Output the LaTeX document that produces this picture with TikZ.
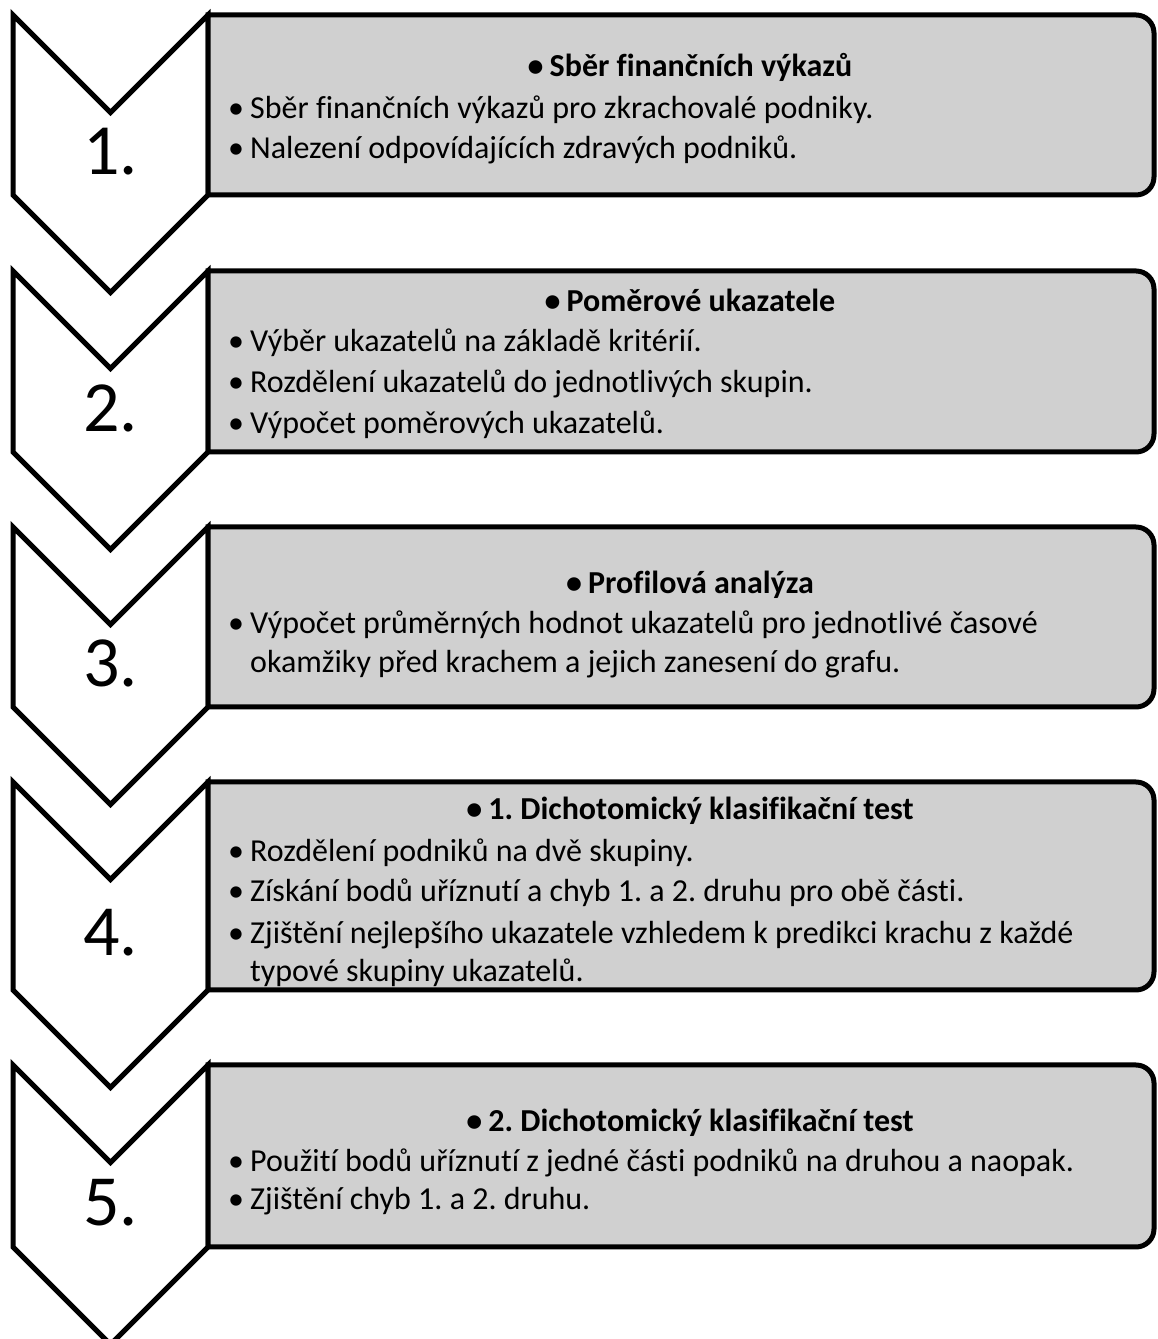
\documentclass[tikz,border=0pt]{standalone}
\usepackage{fontspec}
\setmainfont{Carlito}[Ligatures={TeX,NoCommon}]
\frenchspacing
\definecolor{boxgray}{RGB}{208,208,208}
\tikzset{
  chev/.style={draw=black, line width=5pt, fill=white, line join=miter},
  panel/.style={draw=black, line width=5pt, fill=boxgray},
  num/.style={font=\fontsize{72}{80}\selectfont, inner sep=0pt, anchor=center},
  head/.style={font=\fontsize{32}{38}\selectfont\bfseries, inner sep=0pt, anchor=base},
  item/.style={font=\fontsize{32}{38}\selectfont, inner sep=0pt, anchor=base west},
}
\newcommand{\bul}{\makebox[22pt][l]{\textbullet}}
\begin{document}
\frenchspacing
\begin{tikzpicture}[x=1pt,y=1pt]
\useasboundingbox (0,0) rectangle (1157,1339);
% chevrons and panels: #top, #bottom (tikz y)
\foreach \t/\b/\n [count=\i] in {1324/1144/1, 1068/887/2, 812/632/3, 557/349/4, 274/92/5}{
  \draw[chev] (13,\t) -- (110.5,\t-97.5) -- (208,\t) -- (208,\b) -- (110.5,\b-97.5) -- (13,\b) -- cycle;
  \draw[panel] (208,\t) -- (1136,\t) arc[start angle=90,end angle=0,radius=18] -- (1154,\b+18) arc[start angle=0,end angle=-90,radius=18] -- (208,\b) -- cycle;
  \node[num] (n\i) at (110.5,{(\t-97.5+\b)/2+2}) {\n.};
}
% box 1
\node[head] (h1) at (690,1262) {\bul Sběr finančních výkazů};
\node[item] (a1) at (228,1220) {\bul Sběr finančních výkazů pro zkrachovalé podniky.};
\node[item] (b1) at (228,1180) {\bul Nalezení odpovídajících zdravých podniků.};
% box 2
\node[head] (h2) at (690,1027) {\bul Poměrové ukazatele};
\node[item] (a2) at (228,987) {\bul Výběr ukazatelů na základě kritérií.};
\node[item] (b2) at (228,946) {\bul Rozdělení ukazatelů do jednotlivých skupin.};
\node[item] (c2) at (228,905) {\bul Výpočet poměrových ukazatelů.};
% box 3
\node[head] (h3) at (690,745) {\bul Profilová analýza};
\node[item] (a3) at (228,705) {\bul Výpočet průměrných hodnot ukazatelů pro jednotlivé časové};
\node[item] (a3b) at (250,666) {okamžiky před krachem a jejich zanesení do grafu.};
% box 4
\node[head] (h4) at (690,519) {\bul 1. Dichotomický klasifikační test};
\node[item] (a4) at (228,477) {\bul Rozdělení podniků na dvě skupiny.};
\node[item] (b4) at (228,437) {\bul Získání bodů uříznutí a chyb 1. a 2. druhu pro obě části.};
\node[item] (c4) at (228,395) {\bul Zjištění nejlepšího ukazatele vzhledem k predikci krachu z každé};
\node[item] (c4b) at (250,357) {typové skupiny ukazatelů.};
% box 5
\node[head] (h5) at (690,207) {\bul 2. Dichotomický klasifikační test};
\node[item] (a5) at (228,167) {\bul Použití bodů uříznutí z jedné části podniků na druhou a naopak.};
\node[item] (b5) at (228,129) {\bul Zjištění chyb 1. a 2. druhu.};
\end{tikzpicture}
\end{document}
